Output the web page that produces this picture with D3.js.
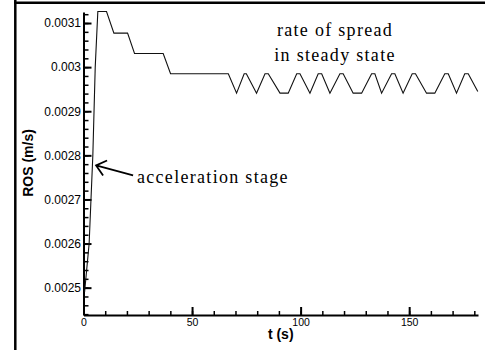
<!DOCTYPE html>
<html>
<head>
<meta charset="utf-8">
<script src="https://cdn.jsdelivr.net/npm/d3@7"></script>
<style>
  body { margin: 0; background: #fff; }
  svg { display: block; }
</style>
</head>
<body>
<div id="chart"></div>
<script>
// ROS over time
const timeS = [0.5, 2.6, 4.3, 5.4, 6.6, 10.6, 14.0, 20.3, 23.5, 36.7, 40.1, 66.7,
    70.5, 74.0, 75.0, 79.7, 83.6, 85.1, 90.5, 94.3, 98.2, 99.7, 104.3, 108.1, 109.7,
    113.5, 118.1, 119.6, 124.2, 128.1, 132.7, 134.2, 137.3, 141.9, 143.4, 147.2,
    151.4, 152.9, 158.0, 161.8, 166.4, 168.0, 171.8, 175.6, 177.2, 181.6];
const rosMs = [0.00249, 0.0026, 0.0028, 0.0030, 0.003126, 0.003126, 0.003077, 0.003077,
    0.003031, 0.003031, 0.002985, 0.002985,
    0.002941, 0.002985, 0.002985, 0.002941, 0.002985, 0.002985, 0.002941, 0.002941,
    0.002985, 0.002985, 0.002941, 0.002985, 0.002985,
    0.002941, 0.002985, 0.002985, 0.002941, 0.002941, 0.002985, 0.002985, 0.002941,
    0.002985, 0.002985, 0.002941,
    0.002985, 0.002985, 0.002941, 0.002941, 0.002985, 0.002985, 0.002941, 0.002985,
    0.002985, 0.002945];

const xTicks = [0, 50, 100, 150];
const yTicks = [0.0025, 0.0026, 0.0027, 0.0028, 0.0029, 0.003, 0.0031];
const yTickLabels = ["0.0025", "0.0026", "0.0027", "0.0028", "0.0029", "0.003", "0.0031"];

const data = timeS.map((t, i) => ({t: t, ros: rosMs[i]}));

const W = 485, H = 350;
const plot = {left: 83.5, right: 478, top: 12, bottom: 315};

const svg = d3.select("#chart")
    .append("svg")
    .attr("width", W)
    .attr("height", H);

const x = d3.scaleLinear()
    .domain([0, 181.7])
    .range([plot.left, plot.right]);

const y = d3.scaleLinear()
    .domain([0.002438, 0.003125])
    .range([plot.bottom, plot.top]);

// frame pieces (top + left edge of the page)
svg.append("line")
    .attr("x1", 14).attr("x2", W)
    .attr("y1", 2.8).attr("y2", 2.8)
    .attr("stroke", "#000").attr("stroke-width", 2.5);
svg.append("line")
    .attr("x1", 15.3).attr("x2", 15.3)
    .attr("y1", 0).attr("y2", H)
    .attr("stroke", "#000").attr("stroke-width", 2.5);

// minor ticks
svg.append("g")
    .attr("transform", `translate(0,${plot.bottom})`)
    .call(d3.axisBottom(x).tickValues(d3.range(10, 181, 10)).tickSize(-4).tickFormat(""))
    .call(g => g.select(".domain").remove())
    .call(g => g.selectAll("line").attr("stroke-width", 1.5));

svg.append("g")
    .attr("transform", `translate(${plot.left},0)`)
    .call(d3.axisLeft(y).tickValues(d3.range(0.00244, 0.003121, 0.00002)).tickSize(-5).tickFormat(""))
    .call(g => g.select(".domain").remove())
    .call(g => g.selectAll("line").attr("stroke-width", 1.5));

// main axes
const xAxis = svg.append("g") /* X axis */
    .attr("transform", `translate(0,${plot.bottom})`)
    .call(d3.axisBottom(x).tickValues(xTicks).tickSizeInner(-8).tickSizeOuter(0).tickPadding(4));

const yAxis = svg.append("g") /* Y axis */
    .attr("transform", `translate(${plot.left},0)`)
    .call(d3.axisLeft(y).tickValues(yTicks).tickSizeInner(-8).tickSizeOuter(0).tickPadding(2.5)
        .tickFormat((d, i) => yTickLabels[i]));

[xAxis, yAxis].forEach(g => {
    g.select(".domain").attr("stroke-width", 2);
    g.selectAll(".tick line").attr("stroke-width", 2);
    g.selectAll("text")
        .attr("fill", "#000")
        .style("font-family", "'Liberation Sans', Arial, sans-serif");
});
xAxis.selectAll("text").style("font-size", "10.5px");
yAxis.selectAll("text").style("font-size", "12px");

// curve
const line = d3.line()
    .x(d => x(d.t))
    .y(d => y(d.ros));

svg.append("path")
    .datum(data)
    .attr("d", line)
    .attr("fill", "none")
    .attr("stroke", "#111")
    .attr("stroke-width", 1.1);

// axis titles
svg.append("text")
    .attr("x", (plot.left + plot.right) / 2)
    .attr("y", 339)
    .attr("text-anchor", "middle")
    .style("font-family", "'Liberation Sans', Arial, sans-serif")
    .style("font-size", "14px")
    .style("font-weight", "bold")
    .text("t (s)");

svg.append("text")
    .attr("transform", "rotate(-90)")
    .attr("x", -163)
    .attr("y", 32.5)
    .attr("text-anchor", "middle")
    .style("font-family", "'Liberation Sans', Arial, sans-serif")
    .style("font-size", "14px")
    .style("font-weight", "bold")
    .text("ROS (m/s)");

// annotations
const serif = "'Liberation Serif', 'Times New Roman', serif";
const note = svg.append("text")
    .attr("text-anchor", "middle")
    .style("font-family", serif)
    .style("font-size", "18px")
    .style("letter-spacing", "1.3px");
note.append("tspan").attr("x", 335).attr("y", 36).text("rate of spread");
note.append("tspan").attr("x", 335).attr("y", 61).text("in steady state");

svg.append("text")
    .attr("x", 137)
    .attr("y", 183)
    .style("font-family", serif)
    .style("font-size", "18px")
    .style("letter-spacing", "1.3px")
    .text("acceleration stage");

// arrow pointing at the ramp
const tipX = x(5.8), tipY = y(0.002777);
svg.append("path")
    .attr("d", `M${tipX + 37},${tipY + 10} L${tipX},${tipY} M${tipX + 11},${tipY - 5} L${tipX},${tipY} L${tipX + 7},${tipY + 10}`)
    .attr("fill", "none")
    .attr("stroke", "#000")
    .attr("stroke-width", 1.8);
</script>
</body>
</html>
